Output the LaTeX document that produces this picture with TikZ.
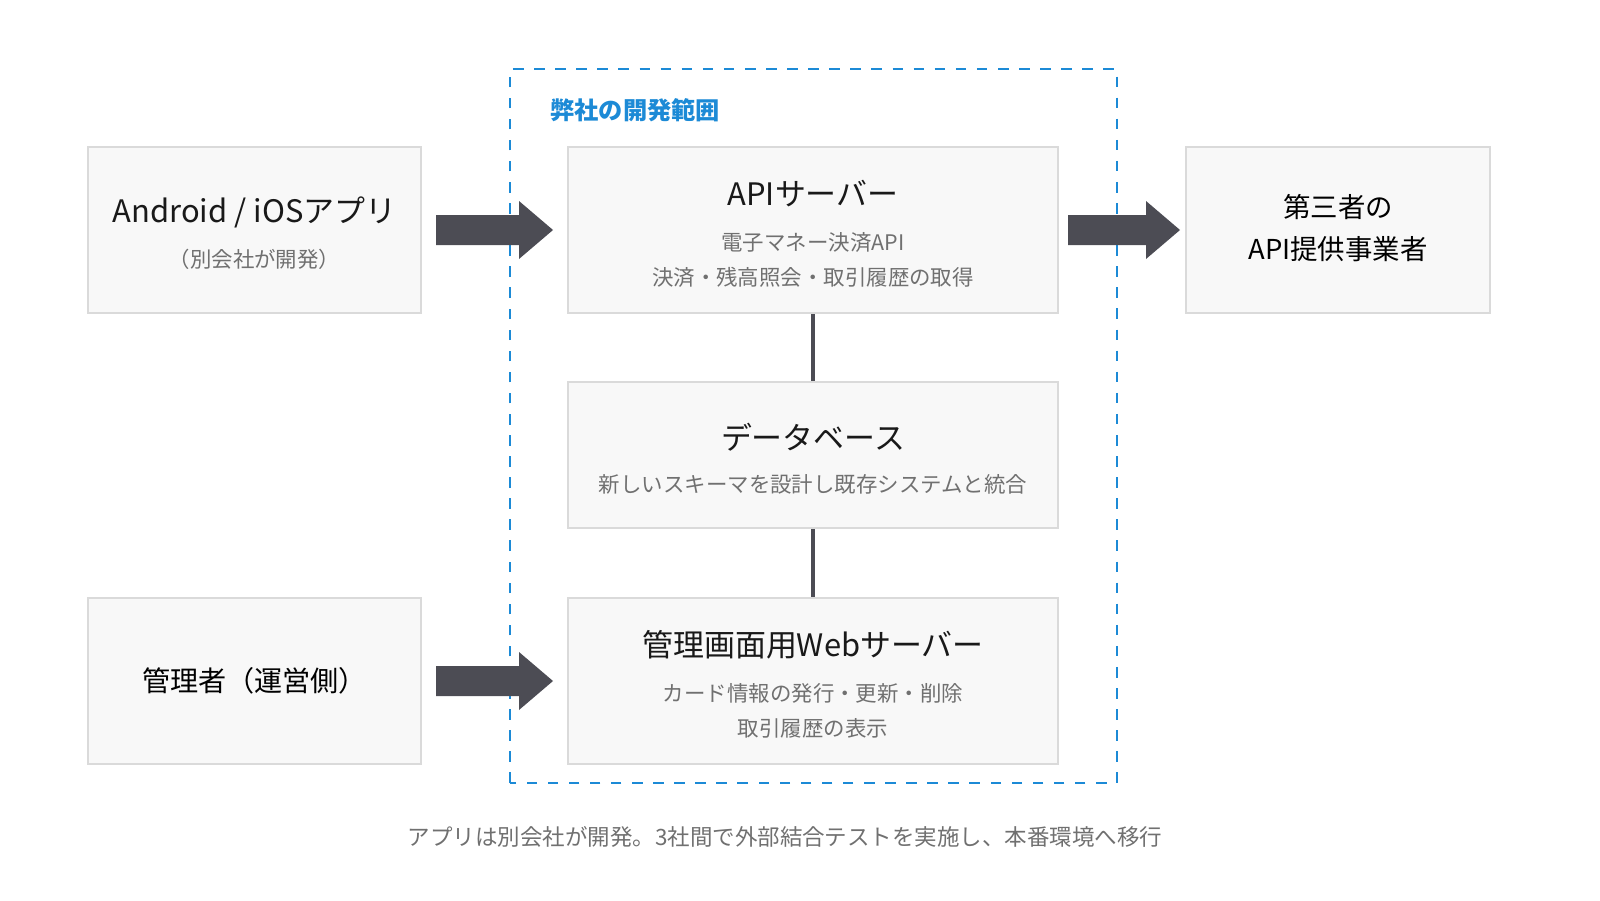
\documentclass[tikz,border=0pt]{standalone}
\usepackage{fontspec}
\setmainfont{Noto Sans CJK JP}
\usetikzlibrary{positioning}
\definecolor{boxfill}{HTML}{F8F8F8}
\definecolor{boxline}{HTML}{DADADA}
\definecolor{arrowgray}{HTML}{4C4C54}
\definecolor{scopeblue}{HTML}{1C8AD6}
\definecolor{subgray}{HTML}{707070}
\tikzset{
  card/.style={draw=boxline, fill=boxfill, line width=0.6pt, align=center, inner sep=0pt},
  sub/.style={text=subgray, align=center, font=\fontsize{6.1}{10}\selectfont},
  head/.style={font=\fontsize{8.8}{10}\selectfont, text=black!90},
  link/.style={draw=arrowgray, line width=1.2pt},
}
\newcommand{\blockarrow}[3]{% x1, x2, y
  \fill[arrowgray] (#1,#3-0.15) -- (#2-0.34,#3-0.15) -- (#2-0.34,#3-0.29) -- (#2,#3)
    -- (#2-0.34,#3+0.29) -- (#2-0.34,#3+0.15) -- (#1,#3+0.15) -- cycle;}
\begin{document}
\begin{tikzpicture}[x=1cm,y=1cm]
  \useasboundingbox (0,0) rectangle (16,9);
  % scope of development
  \draw[scopeblue, dashed, line width=0.8pt] (5.10,1.17) rectangle (11.17,8.31);
  \node[anchor=west, text=scopeblue, font=\fontsize{6.9}{8}\selectfont\bfseries] (scope) at (5.38,7.90) {弊社の開発範囲};
  % boxes
  \node[card, minimum width=3.33cm, minimum height=1.66cm] (app) at (2.545,6.70) {};
  \node[head] at (2.545,6.88) {Android / iOSアプリ};
  \node[sub] at (2.545,6.41) {（別会社が開発）};
  \node[card, minimum width=4.90cm, minimum height=1.66cm] (api) at (8.13,6.70) {};
  \node[head] at (8.13,7.06) {APIサーバー};
  \node[sub] at (8.13,6.40) {電子マネー決済API\\決済・残高照会・取引履歴の取得};
  \node[card, minimum width=3.04cm, minimum height=1.66cm] (third) at (13.38,6.70) {};
  \node[font=\fontsize{7.8}{11.8}\selectfont, align=center] at (13.38,6.72) {第三者の\\API提供事業者};
  \node[card, minimum width=4.90cm, minimum height=1.46cm] (db) at (8.13,4.45) {};
  \node[head] at (8.13,4.63) {データベース};
  \node[sub] at (8.13,4.16) {新しいスキーマを設計し既存システムと統合};
  \node[card, minimum width=4.90cm, minimum height=1.66cm] (web) at (8.13,2.19) {};
  \node[head] at (8.13,2.55) {管理画面用Webサーバー};
  \node[sub] at (8.13,1.89) {カード情報の発行・更新・削除\\取引履歴の表示};
  \node[card, minimum width=3.33cm, minimum height=1.66cm] (admin) at (2.545,2.19) {};
  \node[font=\fontsize{8}{10}\selectfont] at (2.545,2.19) {管理者（運営側）};
  % connectors
  \draw[link] (api.south) -- (db.north);
  \draw[link] (db.south) -- (web.north);
  \blockarrow{4.36}{5.53}{6.70}
  \blockarrow{10.68}{11.80}{6.70}
  \blockarrow{4.36}{5.53}{2.19}
  % footer
  \node[sub, font=\fontsize{6.4}{8}\selectfont] (note) at (7.85,0.63) {アプリは別会社が開発。3社間で外部結合テストを実施し、本番環境へ移行};
\end{tikzpicture}
\end{document}
